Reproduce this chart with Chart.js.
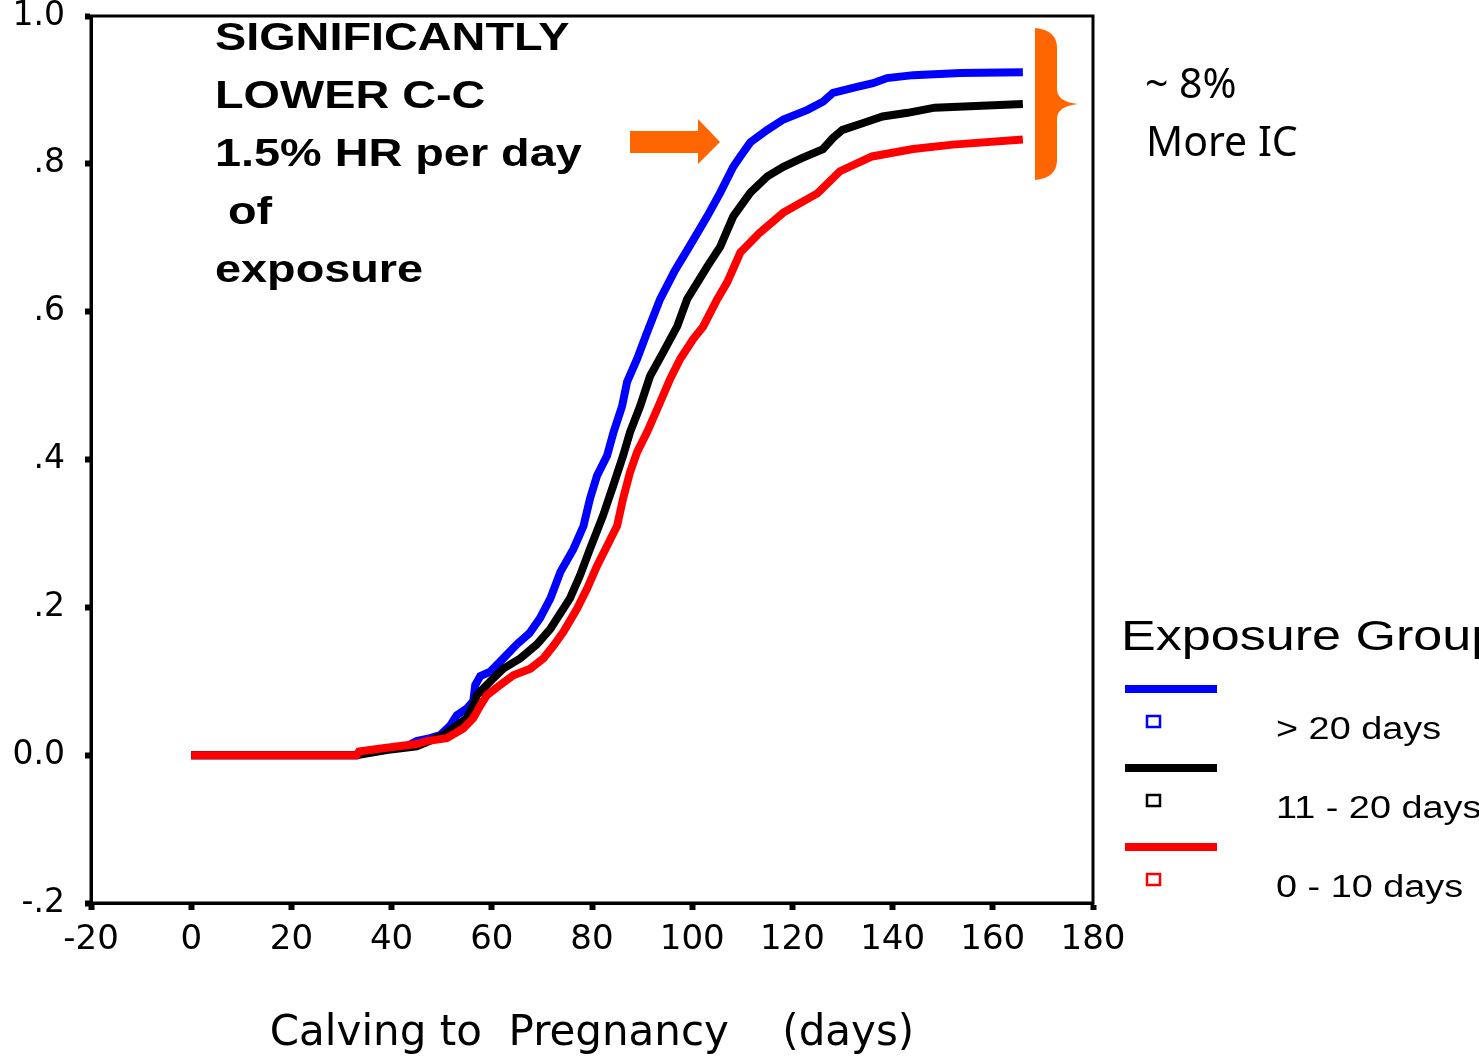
<!DOCTYPE html>
<html>
<head>
<meta charset="utf-8">
<script src="https://cdn.jsdelivr.net/npm/chart.js@4.4.1/dist/chart.umd.min.js"></script>
<style>
  body { margin: 0; background: #fff; }
  canvas { display: block; }
</style>
</head>
<body>
<canvas id="chart" width="1479" height="1056"></canvas>
<script>
// Cumulative proportion pregnant by day after calving, per exposure group
const blueDays = [0, 33, 33.5, 39, 43, 45, 47.7, 49.7, 51.7, 53, 55, 56.3, 56.7, 57.7, 59.7, 62.3, 65, 67.5, 69.6, 71.7, 73.7, 76.3, 78.3, 79.6, 81, 83, 84.3, 86, 87, 89, 91, 93.6, 96.5, 99.6, 103, 105.6, 108.2, 109.6, 111.6, 115, 118.2, 123, 126.1, 128.1, 132.9, 136.1, 138.9, 144.1, 153.5, 166];
const blueValues = [0, 0, 0.004, 0.008, 0.012, 0.019, 0.023, 0.027, 0.04, 0.054, 0.063, 0.073, 0.095, 0.107, 0.113, 0.131, 0.15, 0.165, 0.185, 0.212, 0.248, 0.279, 0.31, 0.347, 0.378, 0.405, 0.437, 0.472, 0.505, 0.536, 0.572, 0.617, 0.655, 0.69, 0.729, 0.761, 0.796, 0.81, 0.829, 0.846, 0.86, 0.873, 0.884, 0.896, 0.904, 0.909, 0.916, 0.92, 0.923, 0.924];

const blackDays = [0, 33, 39, 45, 50.3, 53, 55, 56.3, 57, 58.3, 60.3, 62.3, 65.7, 69, 71.7, 75.6, 77.6, 79.6, 82.2, 84.2, 86.2, 87.6, 89.6, 91.6, 94.2, 97, 99, 103, 105.6, 108.2, 111.6, 115, 118.2, 122, 126.1, 128.1, 130, 134, 138, 143, 148.4, 166];
const blackValues = [0, 0, 0.007, 0.012, 0.027, 0.04, 0.05, 0.067, 0.081, 0.09, 0.104, 0.117, 0.131, 0.15, 0.171, 0.212, 0.243, 0.279, 0.324, 0.364, 0.405, 0.437, 0.472, 0.513, 0.545, 0.58, 0.617, 0.661, 0.688, 0.729, 0.761, 0.783, 0.796, 0.808, 0.82, 0.835, 0.846, 0.855, 0.864, 0.869, 0.876, 0.881];

const redDays = [0, 33, 33.5, 39, 45, 47, 51, 54.3, 56.3, 57.7, 59, 61.7, 64.3, 67.7, 70.3, 72.3, 74.3, 77, 79, 81, 83, 85, 86.2, 87.6, 89, 91, 93, 95.6, 97.6, 100.2, 102.2, 105, 107, 109.6, 113.5, 118.2, 125, 129.5, 135.9, 144.1, 152, 166];
const redValues = [0, 0, 0.005, 0.01, 0.015, 0.019, 0.023, 0.036, 0.05, 0.067, 0.081, 0.095, 0.108, 0.117, 0.131, 0.148, 0.167, 0.198, 0.225, 0.256, 0.283, 0.31, 0.347, 0.383, 0.41, 0.437, 0.468, 0.509, 0.536, 0.563, 0.58, 0.617, 0.64, 0.68, 0.707, 0.734, 0.76, 0.79, 0.81, 0.82, 0.826, 0.833];

const groupLabels = ['> 20 days', '11 - 20 days', '0 - 10 days'];
const groupColors = ['#0000ff', '#000000', '#ff0000'];

const yTickValues = [-0.2, 0, 0.2, 0.4, 0.6, 0.8, 1.0];
const yTickLabels = ['-.2', '0.0', '.2', '.4', '.6', '.8', '1.0'];

const noteLines = ['SIGNIFICANTLY', 'LOWER C-C', '1.5% HR per day', ' of', 'exposure'];
const sideNote = ['~ 8%', 'More IC'];
const legendTitle = 'Exposure Group';
const orange = '#ff6600';

function toPoints(days, values) {
  return days.map((d, i) => ({ x: d, y: values[i] }));
}

// stretched text, the reference is wider than a normal Arial
function wideText(ctx, text, x, y, scale) {
  ctx.save();
  ctx.translate(x, y);
  ctx.scale(scale, 1);
  ctx.fillText(text, 0, 0);
  ctx.restore();
}

const extras = {
  id: 'extras',
  afterDraw(chart) {
    const ctx = chart.ctx;
    const a = chart.chartArea;

    // closed frame round the plot
    ctx.save();
    ctx.strokeStyle = '#000';
    ctx.lineWidth = 3;
    ctx.strokeRect(a.left, a.top, a.right - a.left, a.bottom - a.top);

    // bold note at top left
    ctx.fillStyle = '#000';
    ctx.font = 'bold 39px "Liberation Sans", Arial, sans-serif';
    ctx.textBaseline = 'alphabetic';
    noteLines.forEach((t, i) => wideText(ctx, t, 215, 50 + i * 58, 1.2));

    // orange arrow
    ctx.fillStyle = orange;
    ctx.beginPath();
    ctx.moveTo(630, 131);
    ctx.lineTo(698, 131);
    ctx.lineTo(698, 119);
    ctx.lineTo(720, 142);
    ctx.lineTo(698, 164);
    ctx.lineTo(698, 153);
    ctx.lineTo(630, 153);
    ctx.closePath();
    ctx.fill();

    // orange brace
    ctx.beginPath();
    ctx.moveTo(1035, 28);
    ctx.quadraticCurveTo(1057, 30, 1057, 48);
    ctx.lineTo(1057, 90);
    ctx.quadraticCurveTo(1058, 102, 1078, 104);
    ctx.quadraticCurveTo(1058, 106, 1057, 118);
    ctx.lineTo(1057, 160);
    ctx.quadraticCurveTo(1057, 178, 1035, 180);
    ctx.closePath();
    ctx.fill();

    // side note
    ctx.fillStyle = '#000';
    ctx.font = '41px "Noto Sans", sans-serif';
    ctx.fillText(sideNote[0], 1145, 98);
    ctx.fillText(sideNote[1], 1146, 156);

    // legend
    ctx.font = '42px "Liberation Sans", Arial, sans-serif';
    ctx.textBaseline = 'middle';
    wideText(ctx, legendTitle, 1121, 638, 1.24);
    ctx.font = '31px "Liberation Sans", Arial, sans-serif';
    chart.data.datasets.forEach((ds, i) => {
      const y = 689 + i * 79;
      ctx.fillStyle = ds.borderColor;
      ctx.fillRect(1125, y - 4, 92, 8);
      ctx.strokeStyle = ds.borderColor;
      ctx.lineWidth = 2.5;
      ctx.strokeRect(1147, y + 27, 13, 11);
      ctx.fillStyle = '#000';
      wideText(ctx, ds.label, 1276, y + 41, 1.22);
    });
    ctx.restore();
  }
};

const ctx = document.getElementById('chart');

new Chart(ctx, {
  type: 'line',
  data: {
    datasets: [
      { label: groupLabels[0], data: toPoints(blueDays, blueValues), borderColor: groupColors[0], order: 3 },
      { label: groupLabels[1], data: toPoints(blackDays, blackValues), borderColor: groupColors[1], order: 2 },
      { label: groupLabels[2], data: toPoints(redDays, redValues), borderColor: groupColors[2], order: 1 }
    ].map(ds => Object.assign(ds, {
      borderWidth: 8,
      pointRadius: 0,
      tension: 0,
      fill: false,
      borderCapStyle: 'butt',
      borderJoinStyle: 'miter'
    }))
  },
  options: {
    responsive: false,
    animation: false,
    layout: { padding: { left: 0, right: 386, top: 16, bottom: 0 } },
    plugins: {
      legend: { display: false },
      tooltip: { enabled: false }
    },
    scales: {
      x: {
        type: 'linear',
        min: -20,
        max: 180,
        ticks: {
          stepSize: 20,
          color: '#000',
          padding: 10,
          font: { family: '"DejaVu Sans", sans-serif', size: 34 }
        },
        grid: { drawOnChartArea: false, drawTicks: true, tickLength: 7, tickWidth: 6, tickColor: '#000' },
        border: { display: true, color: '#000', width: 3 },
        title: {
          display: true,
          text: 'Calving to  Pregnancy    (days)',
          color: '#000',
          padding: { top: 0, bottom: 0 },
          font: { family: '"DejaVu Sans", sans-serif', size: 42, lineHeight: 1.05 }
        },
        afterFit: (scale) => { scale.height = 153; }
      },
      y: {
        min: -0.2,
        max: 1.0,
        ticks: {
          stepSize: 0.2,
          color: '#000',
          padding: 20,
          font: { family: '"DejaVu Sans", sans-serif', size: 33 },
          callback: (v) => {
            const i = yTickValues.findIndex(t => Math.abs(t - v) < 1e-6);
            return i >= 0 ? yTickLabels[i] : '';
          }
        },
        grid: { drawOnChartArea: false, drawTicks: true, tickLength: 6, tickWidth: 6, tickColor: '#000' },
        border: { display: true, color: '#000', width: 3 },
        afterFit: (scale) => {
          scale.width = 91;
          scale.paddingTop = 0;
          scale.paddingBottom = 0;
        }
      }
    }
  },
  plugins: [extras]
});
</script>
</body>
</html>
